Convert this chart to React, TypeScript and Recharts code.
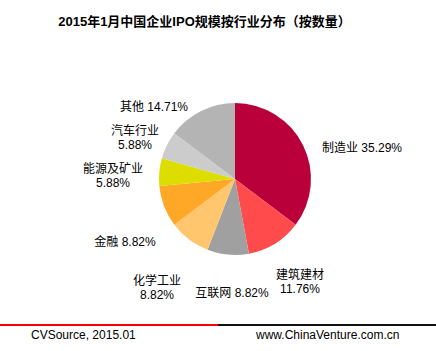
import { PieChart, Pie, Cell } from 'recharts'

const industries = ['制造业', '建筑建材', '互联网', '化学工业', '金融', '能源及矿业', '汽车行业', '其他']
const shares = [35.29, 11.76, 8.82, 8.82, 8.82, 5.88, 5.88, 14.71]
const colors = ['#B9003B', '#FF4B4B', '#A0A0A0', '#FFC66E', '#FFA827', '#DDDD00', '#CCCCCC', '#B4B4B4']

// label centre relative to pie centre, and whether the value goes on its own line
const labelSpots: { dx: number; dy: number; wrap: boolean }[] = [
  { dx: 127, dy: -31, wrap: false },
  { dx: 65, dy: 96, wrap: true },
  { dx: -3, dy: 114, wrap: false },
  { dx: -78, dy: 102, wrap: true },
  { dx: -110, dy: 63, wrap: false },
  { dx: -122, dy: -10, wrap: true },
  { dx: -100, dy: -48, wrap: true },
  { dx: -81, dy: -72, wrap: false },
]

const data = industries.map((name, i) => ({ name, value: shares[i] }))

const FONT = '"Liberation Sans", Arial, "Noto Sans CJK SC", sans-serif'

function renderLabel(props: any) {
  const { cx, cy, index } = props
  const spot = labelSpots[index]
  const name = industries[index]
  const pct = shares[index].toFixed(2) + '%'
  const x = cx + spot.dx
  const y = cy + spot.dy
  if (spot.wrap) {
    return (
      <text x={x} y={y} textAnchor="middle" fontSize={12} fontFamily={FONT} fill="#000">
        <tspan x={x} dy="0.35em">{name}</tspan>
        <tspan x={x} dy={14}>{pct}</tspan>
      </text>
    )
  }
  return (
    <text x={x} y={y} dy="0.35em" textAnchor="middle" fontSize={12} fontFamily={FONT} fill="#000">
      {name} {pct}
    </text>
  )
}

export default function App() {
  return (
    <div style={{ position: 'relative', width: 436, height: 351, background: '#fff', fontFamily: FONT }}>
      <style>{'body{margin:0}'}</style>
      <div
        style={{
          position: 'absolute',
          top: 14,
          left: 0,
          width: 409,
          textAlign: 'center',
          fontSize: 13,
          fontWeight: 'bold',
          lineHeight: '16px',
          color: '#000',
        }}
      >
        2015年1月中国企业IPO规模按行业分布（按数量）
      </div>
      <div style={{ position: 'absolute', top: 0, left: 0 }}>
        <PieChart width={436} height={351} margin={{ top: 0, right: 0, bottom: 0, left: 0 }}>
          <Pie
            data={data}
            dataKey="value"
            nameKey="name"
            cx={235}
            cy={179}
            outerRadius={76}
            startAngle={90}
            endAngle={-270}
            stroke="none"
            label={renderLabel}
            labelLine={false}
            isAnimationActive={false}
          >
            {data.map((d, i) => (
              <Cell key={d.name} fill={colors[i]} />
            ))}
          </Pie>
        </PieChart>
      </div>
      <div style={{ position: 'absolute', top: 324, left: 0, width: 218, height: 2, background: '#FF0000' }} />
      <div style={{ position: 'absolute', top: 324, left: 218, width: 218, height: 2, background: '#111' }} />
      <div style={{ position: 'absolute', top: 328, left: 31, fontSize: 12, lineHeight: '14px', color: '#000' }}>
        CVSource, 2015.01
      </div>
      <div style={{ position: 'absolute', top: 328, left: 256, fontSize: 12, lineHeight: '14px', color: '#000' }}>
        www.ChinaVenture.com.cn
      </div>
    </div>
  )
}
